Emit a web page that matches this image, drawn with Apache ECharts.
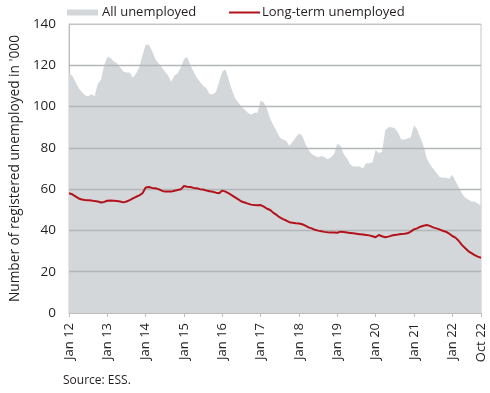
<!DOCTYPE html>
<html>
<head>
<meta charset="utf-8">
<script src="https://cdn.jsdelivr.net/npm/echarts@6/dist/echarts.min.js"></script>
<style>
html,body{margin:0;padding:0;background:#fff;}
#c{width:490px;height:393px;}
</style>
</head>
<body>
<div id="c"></div>
<script>
// Monthly values, Jan 2012 .. Oct 2022 (thousands)
var allUnemployed = [
  116, 115, 112, 109, 107, 105.5, 105, 106, 105, 111, 113, 120,      // 2012
  124, 123.5, 122, 121, 119, 117, 116.5, 116.5, 114, 116, 119, 125,  // 2013
  130, 130, 127, 123, 121, 119, 117, 115, 112, 115, 116, 119,        // 2014
  123, 124, 120, 117, 114, 112, 110, 109, 106, 106, 107, 112,        // 2015
  117, 118, 113, 108, 104, 102, 100, 98.5, 97, 96, 97, 97,           // 2016
  103, 102, 99, 94, 91, 88, 85, 84, 83.5, 81, 83, 85,                // 2017
  87, 86, 82, 79, 77, 76, 75.5, 76, 75.5, 74.5, 75.5, 77,            // 2018
  82, 81, 77, 75, 72, 71, 71, 71, 70, 72.5, 72.5, 73,                // 2019
  79, 77.5, 78, 88.5, 90, 90, 89.5, 87.5, 84, 84, 84.5, 85,          // 2020
  91, 89, 85, 81, 75, 72, 70, 68, 66, 65.5, 65.5, 65,                // 2021
  67, 64, 61, 58, 56, 55, 54, 54, 53, 52                             // 2022
];
var longTerm = [
  58, 57.5, 56.5, 55.5, 55, 54.7, 54.6, 54.5, 54.2, 54, 53.5, 53.8,
  54.4, 54.5, 54.4, 54.3, 54, 53.6, 54, 54.7, 55.5, 56.3, 57, 58,
  60.8, 61, 60.6, 60.4, 60, 59.3, 58.8, 58.8, 58.8, 59.2, 59.6, 59.9,
  61.5, 61.2, 61, 60.6, 60.4, 60, 59.8, 59.3, 59, 58.7, 58.3, 58,
  59.3, 58.8, 58, 57, 56, 55, 54, 53.5, 53, 52.5, 52.3, 52.2,
  52.3, 51.5, 50.5, 49.9, 48.5, 47.5, 46.3, 45.5, 44.8, 44, 43.7, 43.5,
  43.4, 43, 42.3, 41.5, 41, 40.3, 39.9, 39.6, 39.3, 39.1, 39, 39,
  38.9, 39.4, 39.2, 39, 38.8, 38.6, 38.4, 38.2, 38, 37.8, 37.6, 37.2,
  36.7, 37.8, 37.2, 36.7, 37, 37.5, 37.8, 38, 38.3, 38.4, 38.6, 39.4,
  40.5, 41, 41.8, 42.3, 42.6, 42.2, 41.5, 41, 40.5, 39.8, 39.4, 38.5,
  37.3, 36.5, 35, 33, 31.5, 30, 29, 28, 27.3, 26.8
];
var monthNames = ['Jan','Feb','Mar','Apr','May','Jun','Jul','Aug','Sep','Oct','Nov','Dec'];
var startYear = 12;
var categories = [];
for (var i = 0; i < allUnemployed.length; i++) {
  categories.push(monthNames[i % 12] + ' ' + (startYear + Math.floor(i / 12)));
}
var xTickLabels = ['Jan 12','Jan 13','Jan 14','Jan 15','Jan 16','Jan 17','Jan 18','Jan 19','Jan 20','Jan 21','Jan 22','Oct 22'];
var yTicks = [0, 20, 40, 60, 80, 100, 120, 140];
var seriesNames = ['All unemployed', 'Long-term unemployed'];
var yAxisTitle = "Number of registered unemployed in '000";
var sourceText = 'Source: ESS.';

var FONT = 'Open Sans';
var TXT = '#231f20';
var AREA = '#d4d7da';
var GRIDC = '#b3b6b9';
function showTick(idx) { return xTickLabels.indexOf(categories[idx]) >= 0; }

var chart = echarts.init(document.getElementById('c'));
chart.setOption({
  animation: false,
  textStyle: { fontFamily: FONT },
  legend: [{
    data: [seriesNames[0]],
    left: 62, top: 1,
    icon: 'rect', itemWidth: 31, itemHeight: 6, itemGap: 5,
    textStyle: { fontFamily: FONT, fontSize: 13, color: TXT, padding: [0, 0, 0, -1] }
  }, {
    data: [seriesNames[1]],
    left: 224, top: 1,
    icon: 'rect', itemWidth: 31, itemHeight: 2,
    textStyle: { fontFamily: FONT, fontSize: 13, color: TXT, padding: [0, 0, 0, -3] }
  }],
  grid: {
    left: 64, right: 9, top: 24, bottom: 80,
    show: true, borderColor: '#c6c6c6', borderWidth: 1, backgroundColor: 'transparent'
  },
  xAxis: {
    type: 'category',
    data: categories,
    boundaryGap: false,
    axisLine: { show: true, lineStyle: { color: '#bdbdbd', width: 1 } },
    axisTick: { show: true, length: 4, lineStyle: { color: '#bdbdbd' },
      interval: function (idx) { return showTick(idx); } },
    axisLabel: {
      rotate: 90, margin: 10, fontSize: 13, color: TXT, fontFamily: FONT,
      interval: function (idx) { return showTick(idx); }
    },
    splitLine: { show: false }
  },
  yAxis: {
    type: 'value',
    min: yTicks[0], max: yTicks[yTicks.length - 1], interval: 20,
    name: yAxisTitle,
    nameLocation: 'middle',
    nameGap: 46,
    nameTextStyle: { fontFamily: FONT, fontSize: 13.7, color: TXT },
    axisLine: { show: true, lineStyle: { color: '#bdbdbd' } },
    axisTick: { show: false },
    axisLabel: { fontSize: 13.5, color: TXT, margin: 13, fontFamily: FONT },
    splitLine: { show: true, lineStyle: { color: '#c4c4c4', width: 1 } }
  },
  series: [{
    name: seriesNames[0],
    type: 'line',
    data: allUnemployed,
    symbol: 'none',
    smooth: false,
    lineStyle: { width: 0, color: AREA },
    itemStyle: { color: AREA },
    areaStyle: { color: AREA, opacity: 1 },
    z: 2
  }, {
    name: 'grid-overlay',
    type: 'line',
    data: [],
    z: 3,
    silent: true,
    markLine: {
      silent: true,
      animation: false,
      symbol: ['none', 'none'],
      label: { show: false },
      lineStyle: { type: 'solid', color: GRIDC, width: 1.3, opacity: 1 },
      data: yTicks.slice(1, -1).map(function (v) { return { yAxis: v }; })
    }
  }, {
    name: seriesNames[1],
    type: 'line',
    data: longTerm,
    symbol: 'none',
    lineStyle: { width: 2, color: '#b3121b' },
    itemStyle: { color: '#b3121b' },
    z: 5
  }],
  graphic: [{
    type: 'text', left: 63, top: 375,
    style: { text: sourceText, fontFamily: FONT, fontSize: 12, fill: TXT }
  }]
});
</script>
</body>
</html>
